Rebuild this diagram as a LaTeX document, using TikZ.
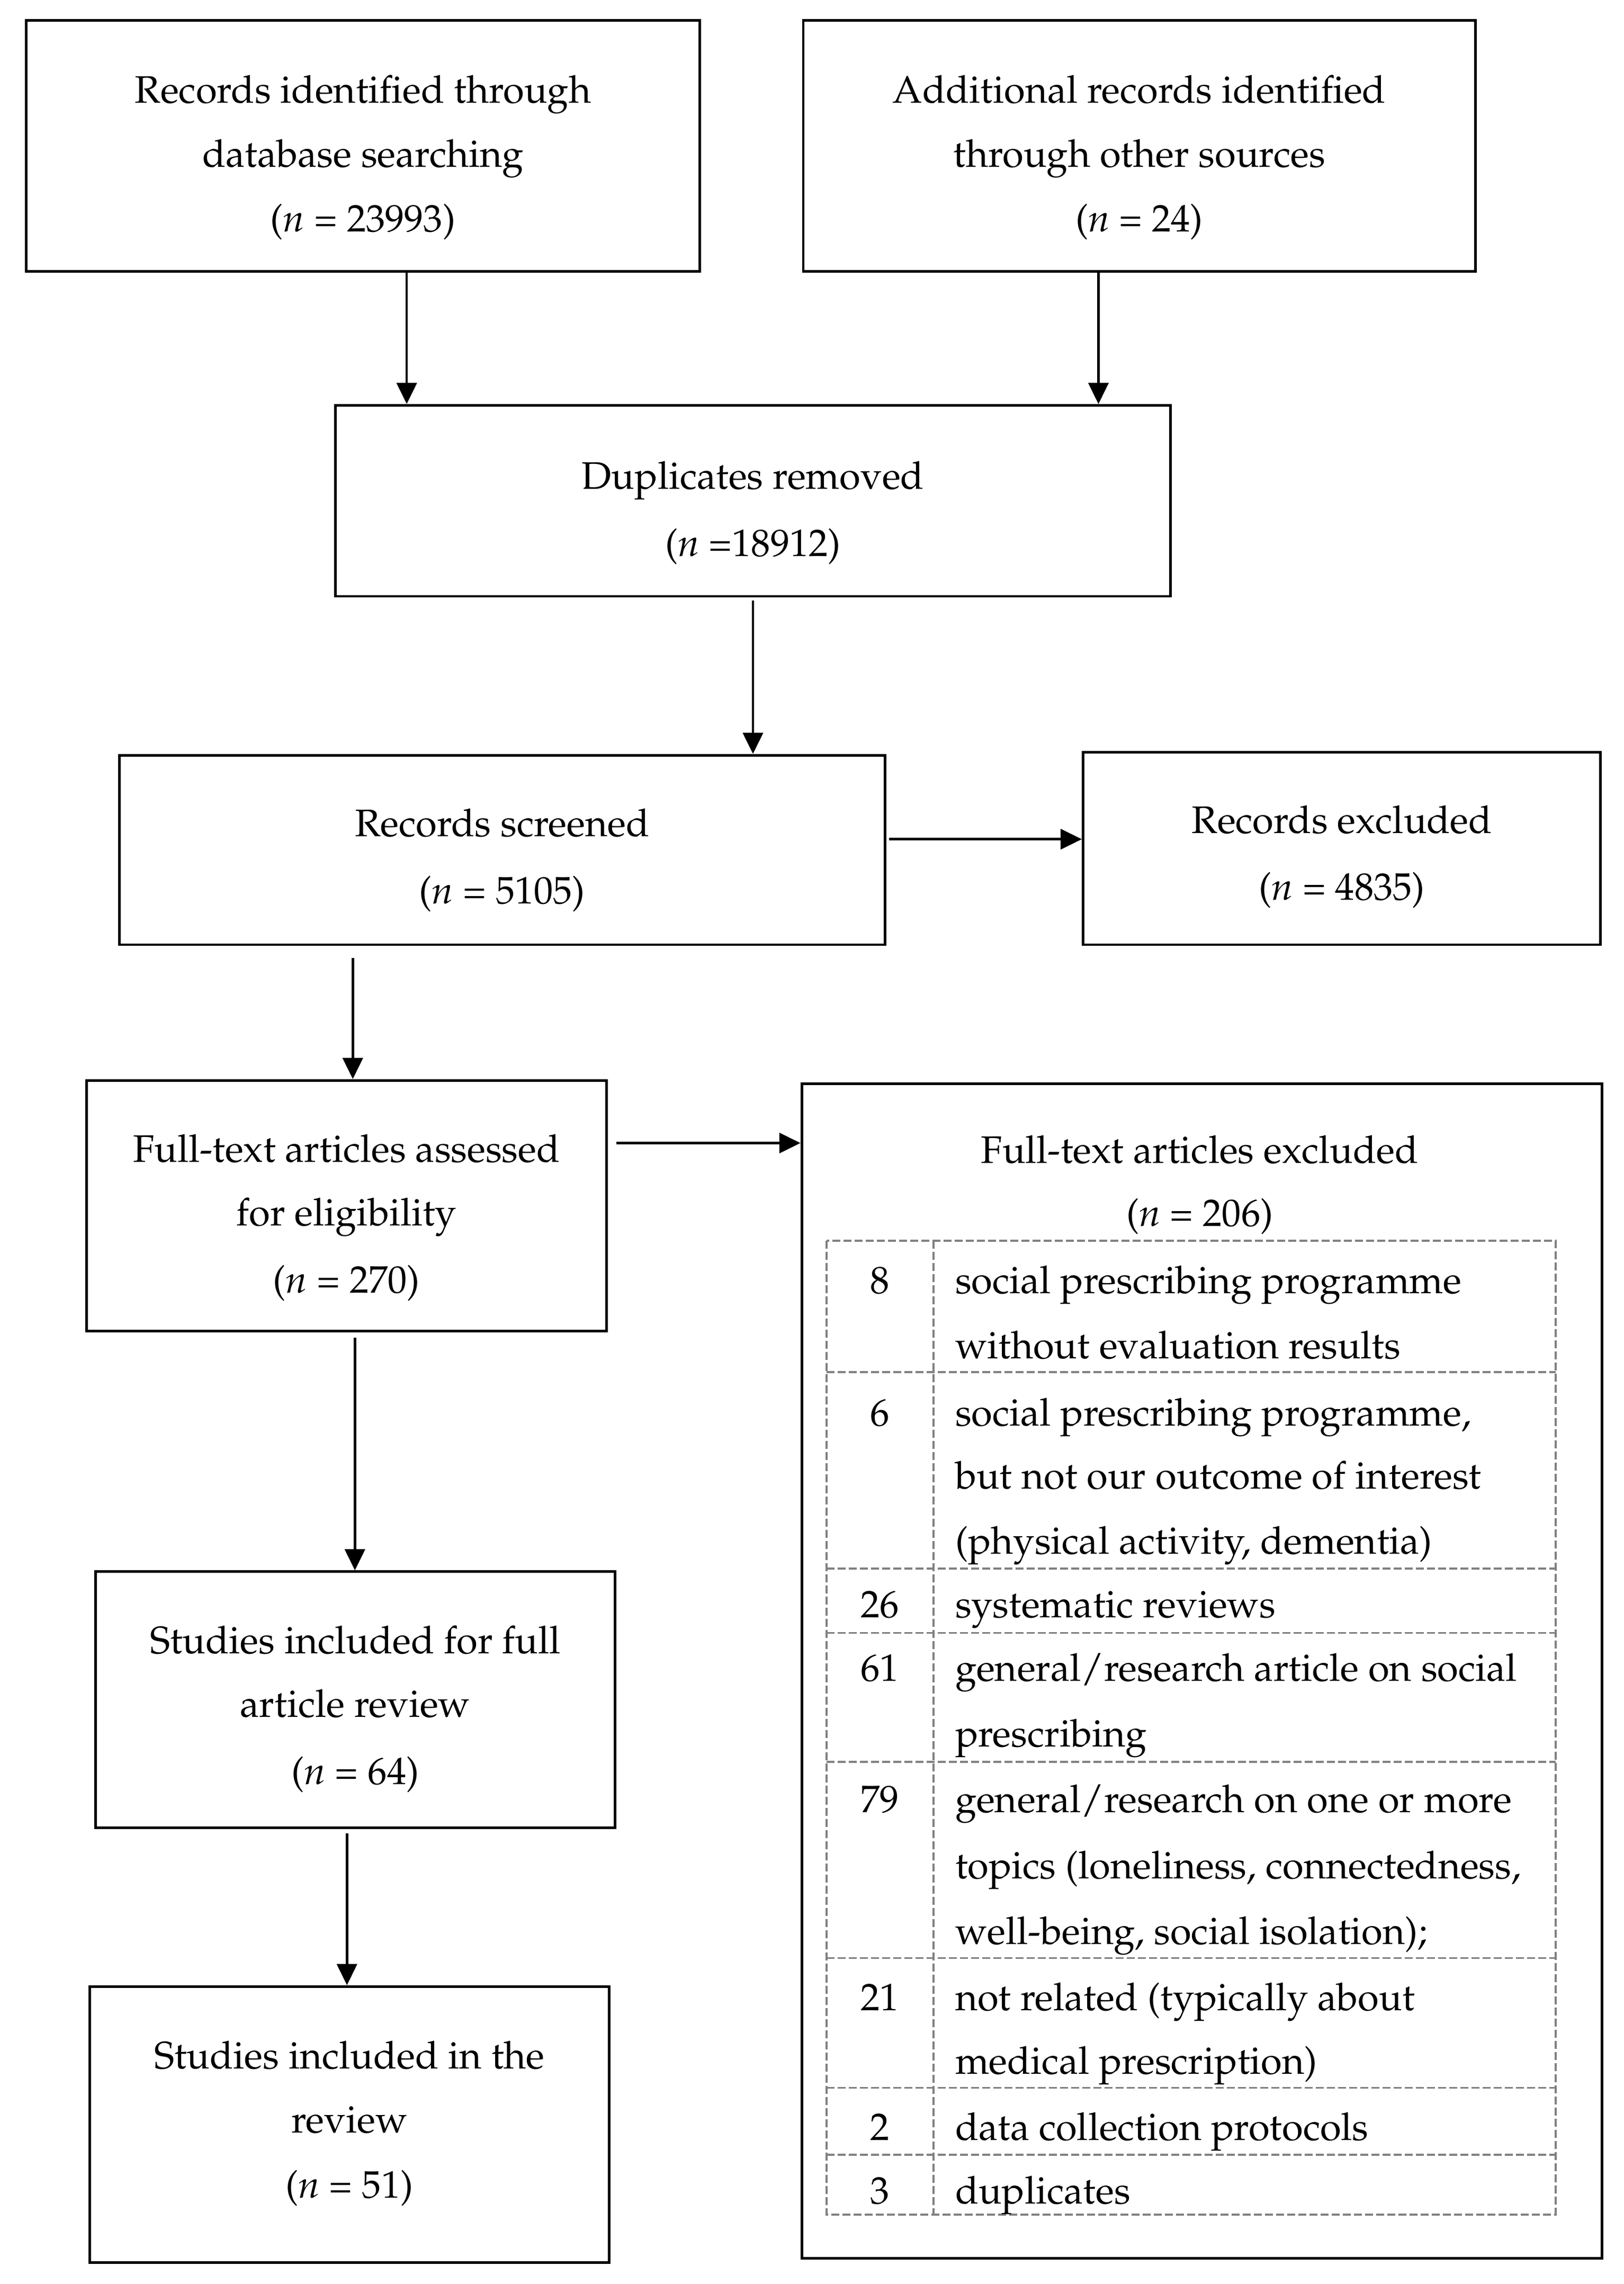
\documentclass[tikz,border=0pt]{standalone}
\IfFileExists{mathpazo.sty}{%
  \usepackage[T1]{fontenc}\usepackage{mathpazo}\newcommand\fsz{20.6}}{%
  \usepackage{fontspec}\setmainfont{Liberation Serif}\newcommand\fsz{22.6}}
\usetikzlibrary{fit,arrows.meta,calc}
\begin{document}
\begin{tikzpicture}[x=0.02753cm,y=-0.02753cm,
  box/.style={draw=black, line width=1.4pt, inner sep=0pt},
  txt/.style={inner sep=0pt, anchor=base, font=\fontsize{\fsz}{34.6}\selectfont},
  ltxt/.style={txt, anchor=base west},
  arr/.style={draw=black, line width=1.3pt, -{Triangle[length=0.4cm,width=0.38cm]}},
  tbl/.style={draw=black!50, line width=1.1pt, dash pattern=on 0.15cm off 0.06cm}]
\useasboundingbox (0,0) rectangle (1114,1566.6);

% boxes
\node[box, fit={(18,14) (480,186)}] (b1) {};
\node[box, fit={(551,14) (1012,186)}] (b2) {};
\node[box, fit={(230,278) (803,409)}] (b3) {};
\node[box, fit={(82,518) (607,648)}] (b4) {};
\node[box, fit={(743,516) (1098,648)}] (b5) {};
\node[box, fit={(59.5,741) (416,913)}] (b6) {};
\node[box, fit={(550,743.5) (1099,1549)}] (b7) {};
\node[box, fit={(65.5,1078) (422,1253.5)}] (b8) {};
\node[box, fit={(61.5,1362.5) (418,1552)}] (b9) {};

% box texts
\node[txt] (t1a) at (249,70.5) {Records identified through};
\node[txt] (t1b) at (249,114.5) {database searching};
\node[txt] (t1c) at (249,159) {(\textit{n} = 23993)};
\node[txt] (t2a) at (781.5,70.5) {Additional records identified};
\node[txt] (t2b) at (781.5,114.5) {through other sources};
\node[txt] (t2c) at (781.5,159) {(\textit{n} = 24)};
\node[txt] (t3a) at (516.5,335.3) {Duplicates removed};
\node[txt] (t3b) at (516.5,381.4) {(\textit{n} =18912)};
\node[txt] (t4a) at (344.5,573.7) {Records screened};
\node[txt] (t4b) at (344.5,619.9) {(\textit{n} = 5105)};
\node[txt] (t5a) at (920.5,571.7) {Records excluded};
\node[txt] (t5b) at (920.5,617.3) {(\textit{n} = 4835)};
\node[txt] (t6a) at (237.7,797) {Full-text articles assessed};
\node[txt] (t6b) at (237.7,840.7) {for eligibility};
\node[txt] (t6c) at (237.7,886.8) {(\textit{n} = 270)};
\node[txt] (t7a) at (823,797.7) {Full-text articles excluded};
\node[txt] (t7b) at (823,841) {(\textit{n} = 206)};
\node[txt] (t8a) at (243.7,1134) {Studies included for full};
\node[txt] (t8b) at (243.7,1177.8) {article review};
\node[txt] (t8c) at (243.7,1224) {(\textit{n} = 64)};
\node[txt] (t9a) at (239.7,1418.8) {Studies included in the};
\node[txt] (t9b) at (239.7,1462.8) {review};
\node[txt] (t9c) at (239.7,1507.7) {(\textit{n} = 51)};

% exclusion table
\draw[tbl] (567,851) rectangle (1067,1519);
\draw[tbl] (640.5,851) -- (640.5,1519);
\foreach \yy in {941,1076,1120,1208.5,1343,1432,1478}
  \draw[tbl] (567,\yy) -- (1067,\yy);

\node[txt] (n1) at (603.5,887) {8};
\node[ltxt] (r1a) at (655,887) {social prescribing programme};
\node[ltxt] (r1b) at (655,931.8) {without evaluation results};
\node[txt] (n2) at (603.5,977.9) {6};
\node[ltxt] (r2a) at (655,977.9) {social prescribing programme,};
\node[ltxt] (r2b) at (655,1021.3) {but not our outcome of interest};
\node[ltxt] (r2c) at (655,1066) {(physical activity, dementia)};
\node[txt] (n3) at (603.5,1109.3) {26};
\node[ltxt] (r3a) at (655,1109.3) {systematic reviews};
\node[txt] (n4) at (603.5,1152.9) {61};
\node[ltxt] (r4a) at (655,1152.9) {general/research article on social};
\node[ltxt] (r4b) at (655,1198) {prescribing};
\node[txt] (n5) at (603.5,1243.3) {79};
\node[ltxt] (r5a) at (655,1243.3) {general/research on one or more};
\node[ltxt] (r5b) at (655,1288.4) {topics (loneliness, connectedness,};
\node[ltxt] (r5c) at (655,1333.6) {well-being, social isolation);};
\node[txt] (n6) at (603.5,1378.9) {21};
\node[ltxt] (r6a) at (655,1378.9) {not related (typically about};
\node[ltxt] (r6b) at (655,1422.6) {medical prescription)};
\node[txt] (n7) at (603.5,1467.9) {2};
\node[ltxt] (r7a) at (655,1467.9) {data collection protocols};
\node[txt] (n8) at (603.5,1511.6) {3};
\node[ltxt] (r8a) at (655,1511.6) {duplicates};

% connectors
\draw[arr] ($(b1.south)+(30,0)$) coordinate (s1) -- (s1 |- b3.north);
\draw[arr] ($(b2.south)+(-28,0)$) coordinate (s2) -- (s2 |- b3.north);
\draw[arr] ($(b3.south)+(0,2)$) coordinate (s3) -- (s3 |- b4.north);
\draw[arr] ($(b4.east)+(2,-7.4)$) coordinate (s4) -- (s4 -| b5.west);
\draw[arr] ($(b4.south)+(-102.5,8)$) coordinate (s5) -- (s5 |- b6.north);
\draw[arr] ($(b6.east)+(6,-43)$) coordinate (s6) -- (s6 -| b7.west);
\draw[arr] ($(b6.south)+(5.7,3.6)$) coordinate (s7) -- (s7 |- b8.north);
\draw[arr] ($(b8.south)+(-5.75,3)$) coordinate (s8) -- (s8 |- b9.north);
\end{tikzpicture}
\end{document}
